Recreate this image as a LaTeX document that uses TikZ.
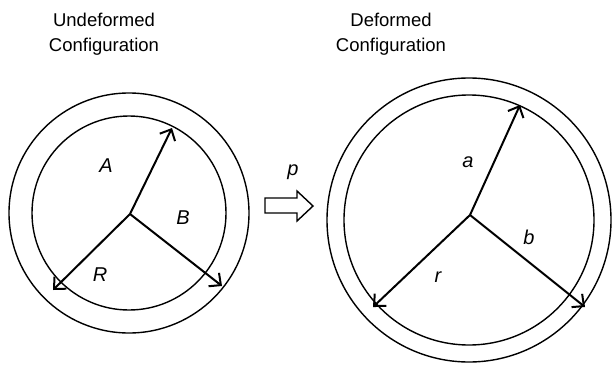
\documentclass[tikz,border=0pt]{standalone}
\usepackage{fontspec}
\setmainfont{Liberation Sans}
\usetikzlibrary{arrows.meta}

\begin{document}
\begin{tikzpicture}[x=1pt, y=1pt, font=\fontsize{18.5}{25}\selectfont,
  ring/.style={line width=1.4pt},
  spoke/.style={line width=2pt, -{Straight Barb[length=9pt, width=17pt]}},
  lbl/.style={font=\fontsize{20}{22}\selectfont\itshape}]
\useasboundingbox (0,0) rectangle (612,368);
% undeformed body
\coordinate (ctrU) at (129,155);
\coordinate (origU) at (130,154);
\draw[ring] (ctrU) circle[radius=120];
\draw[ring] (ctrU) circle[radius=97];
\coordinate (tipA) at (172,240);
\coordinate (tipB) at (222,82);
\coordinate (tipR) at (53,78);
\draw[spoke] (origU) -- (tipA);
\draw[spoke] (origU) -- (tipB);
\draw[spoke] (origU) -- (tipR);
\node[lbl] (labA) at (106,202) {A};
\node[lbl] (labB) at (183,150) {B};
\node[lbl] (labR) at (100,93) {R};
\node[align=center] (titU) at (104,334) {Undeformed\\Configuration};
% mapping
\draw[line width=1.4pt] (265,155) -- (297,155) -- (297,147) -- (313,162)
  -- (297,177) -- (297,170) -- (265,170) -- cycle;
\node[lbl] (labP) at (293,196) {p};
% deformed body
\coordinate (ctrD) at (469,148);
\coordinate (origD) at (470,153);
\draw[ring] (ctrD) circle[radius=142];
\draw[ring] (ctrD) circle[radius=125];
\coordinate (tipa) at (520,263);
\coordinate (tipb) at (585,61);
\coordinate (tipr) at (373,61);
\draw[spoke] (origD) -- (tipa);
\draw[spoke] (origD) -- (tipb);
\draw[spoke] (origD) -- (tipr);
\node[lbl] (laba) at (468,206) {a};
\node[lbl] (labb) at (529,131) {b};
\node[lbl] (labr) at (438,91) {r};
\node[align=center] (titD) at (391,334) {Deformed\\Configuration};
\end{tikzpicture}
\end{document}
